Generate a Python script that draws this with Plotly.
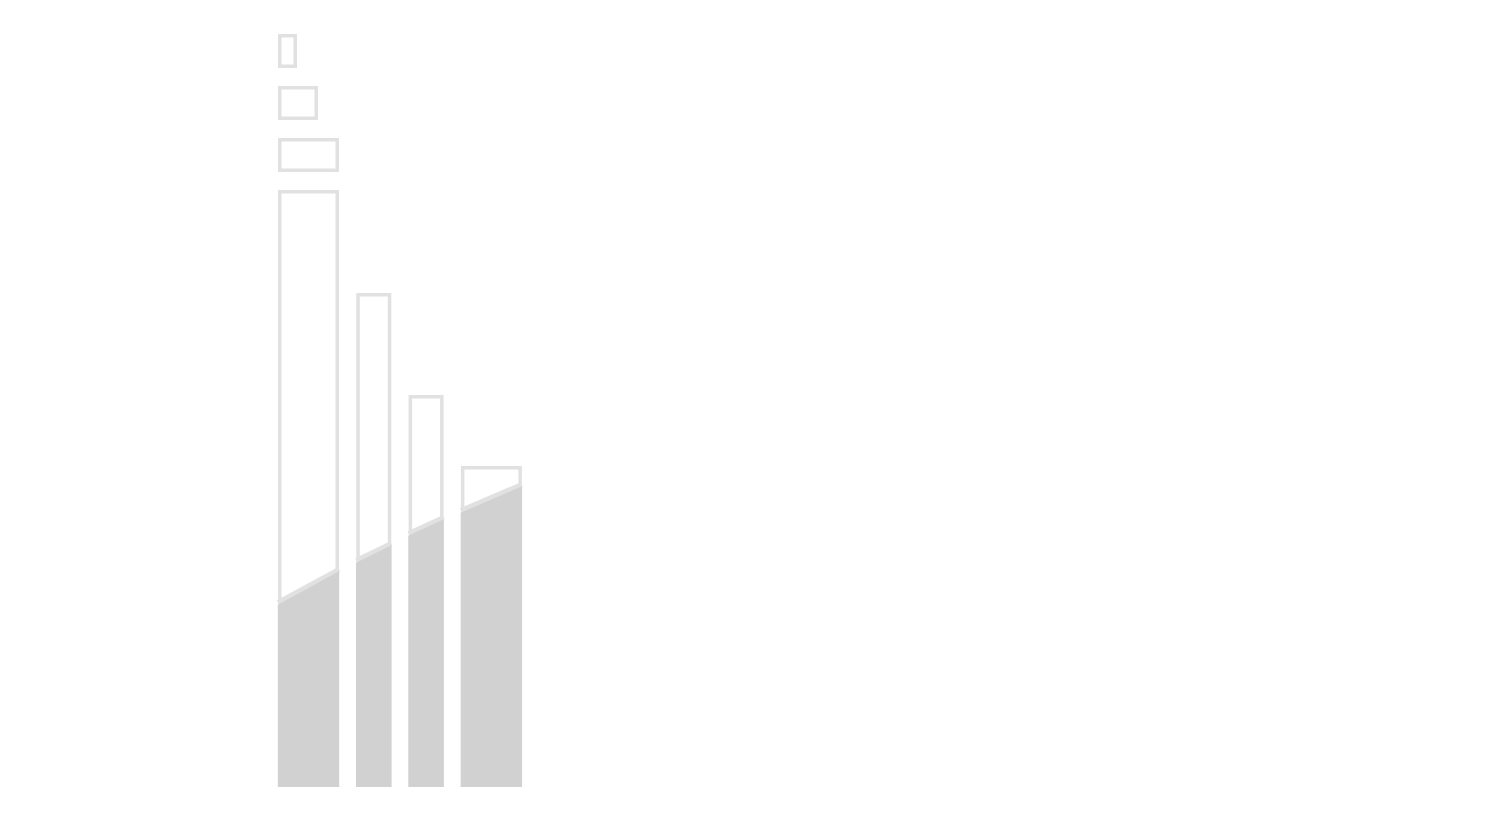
import plotly.graph_objects as go

# ---- data (heights measured from the common baseline) ----
bar_heights = [597, 494, 392, 321]      # outlined column heights
bar_widths = [61, 35, 35, 61]           # column widths
fill_left = [182, 224, 251, 274]        # gray fill level at left edge
fill_right = [215, 241, 267, 300]       # gray fill level at right edge
row_lengths = [19, 40, 61]              # small outlined rows at the top

# ---- layout constants ----
X0 = 278.0
GAP = 17.3
STROKE = 3.5
ROW_H = 34.0
ROW_STEP = 52.0
ROW_TOP = 597 + 3 * ROW_STEP            # top edge of first row
EDGE = "#e1e1e1"
FILL = "#d1d1d1"
BAR_BASE = -10.0                        # column bottoms fall below the clipped axis

fig = go.Figure()

# column positions
lefts = []
x = X0
for w in bar_widths:
    lefts.append(x)
    x += w + GAP

# outlined columns
fig.add_trace(go.Bar(
    x=[l + w / 2 for l, w in zip(lefts, bar_widths)],
    y=[h - STROKE / 2 - BAR_BASE for h in bar_heights],
    width=[w - STROKE for w in bar_widths],
    base=BAR_BASE,
    marker=dict(color="white", line=dict(color=EDGE, width=STROKE)),
    hoverinfo="skip", showlegend=False,
))

# outlined rows at the top
fig.add_trace(go.Bar(
    orientation="h",
    y=[ROW_TOP - i * ROW_STEP - ROW_H / 2 for i in range(len(row_lengths))],
    x=[v - STROKE for v in row_lengths],
    width=ROW_H - STROKE,
    base=X0 + STROKE / 2,
    marker=dict(color="white", line=dict(color=EDGE, width=STROKE)),
    hoverinfo="skip", showlegend=False,
))

# gray fill with light band on top
for l, w, fl, fr in zip(lefts, bar_widths, fill_left, fill_right):
    fig.add_trace(go.Scatter(
        x=[l, l + w], y=[fl + 2.5, fr + 2.5], mode="lines",
        line=dict(color=EDGE, width=5), hoverinfo="skip", showlegend=False,
    ))
    fig.add_trace(go.Scatter(
        x=[l + 0.3, l + 0.3, l + w - 0.3, l + w - 0.3, l + 0.3],
        y=[-5, fl, fr, -5, -5], mode="lines",
        fill="toself", fillcolor=FILL, line=dict(width=1, color=FILL),
        hoverinfo="skip", showlegend=False,
    ))

fig.update_layout(
    width=1500, height=820,
    margin=dict(l=0, r=0, t=0, b=41),
    paper_bgcolor="white", plot_bgcolor="white",
    barmode="overlay",
    xaxis=dict(range=[8, 1508], visible=False, fixedrange=True),
    yaxis=dict(range=[0, 779], visible=False, fixedrange=True),
)

fig.write_html("out.html", config={"displayModeBar": False})
